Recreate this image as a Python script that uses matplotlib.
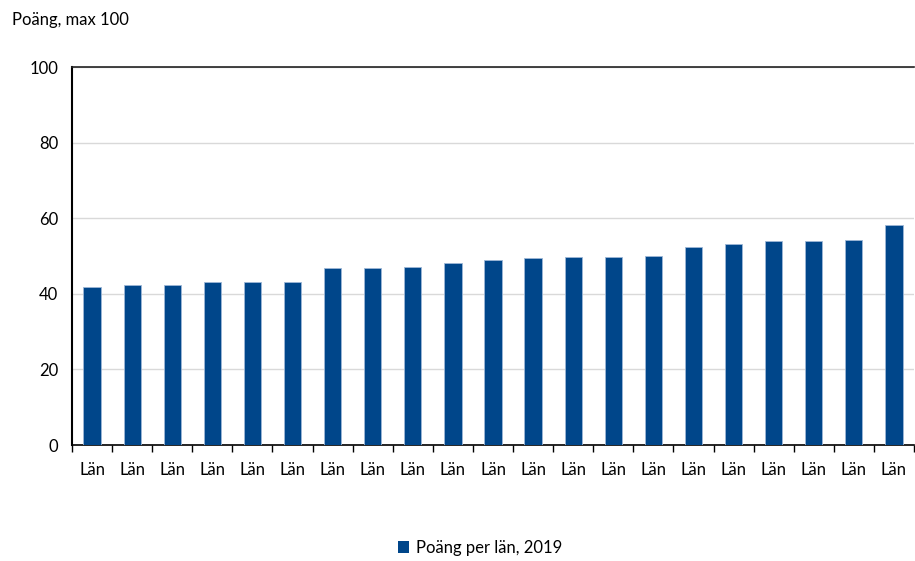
import matplotlib
matplotlib.use("Agg")
import matplotlib.pyplot as plt
from matplotlib.patches import Patch

# Poäng per län 2019
categories = ["Län"] * 21
values = [41.8, 42.4, 42.4, 43.2, 43.2, 43.2, 46.7, 46.7, 47.1, 48.1, 49.0,
          49.4, 49.7, 49.7, 50.0, 52.3, 53.3, 53.9, 53.9, 54.3, 58.2]
y_ticks = [0, 20, 40, 60, 80, 100]
series_label = "Poäng per län, 2019"
y_title = "Poäng, max 100"

BAR_COLOR = "#00468A"

plt.rcParams["font.family"] = ["Lato", "DejaVu Sans"]

fig = plt.figure(figsize=(9.15, 5.61), dpi=100)
ax = fig.add_axes([72 / 915, 1 - 445 / 561, 1 - 72 / 915 - 1 / 915, (445 - 67) / 561])

xs = list(range(len(values)))
ax.bar(xs, values, width=0.43, color=BAR_COLOR, edgecolor="#9db7d6",
       linewidth=0.6, zorder=3)

ax.set_xlim(-0.5, len(values) - 0.5)
ax.set_ylim(0, 100)
ax.set_yticks(y_ticks)
ax.set_yticklabels([str(t) for t in y_ticks], fontsize=12)
ax.tick_params(axis="y", length=0, pad=10)

# category labels between boundary ticks
ax.set_xticks([x - 0.5 for x in xs] + [len(values) - 0.5])
ax.set_xticklabels([])
ax.set_xticks(xs, minor=True)
ax.set_xticklabels(categories, minor=True, fontsize=12)
ax.tick_params(axis="x", which="major", length=5, width=1, direction="out")
ax.tick_params(axis="x", which="minor", length=0, pad=12)

ax.grid(axis="y", color="#d9d9d9", linewidth=1, zorder=0)
ax.spines["right"].set_visible(False)
ax.spines["top"].set_color("#222222")
ax.spines["top"].set_linewidth(1.2)
ax.spines["left"].set_linewidth(1.5)
ax.spines["bottom"].set_linewidth(1.2)

fig.text(12 / 915, 1 - 20 / 561, y_title, fontsize=12, ha="left", va="center")

fig.legend(handles=[Patch(facecolor=BAR_COLOR, edgecolor="none", label=series_label)],
           loc="center", bbox_to_anchor=(480 / 915, 1 - 548 / 561), frameon=False,
           fontsize=12, handlelength=0.7, handleheight=0.7, handletextpad=0.4)

fig.savefig("out.png", dpi=100)
